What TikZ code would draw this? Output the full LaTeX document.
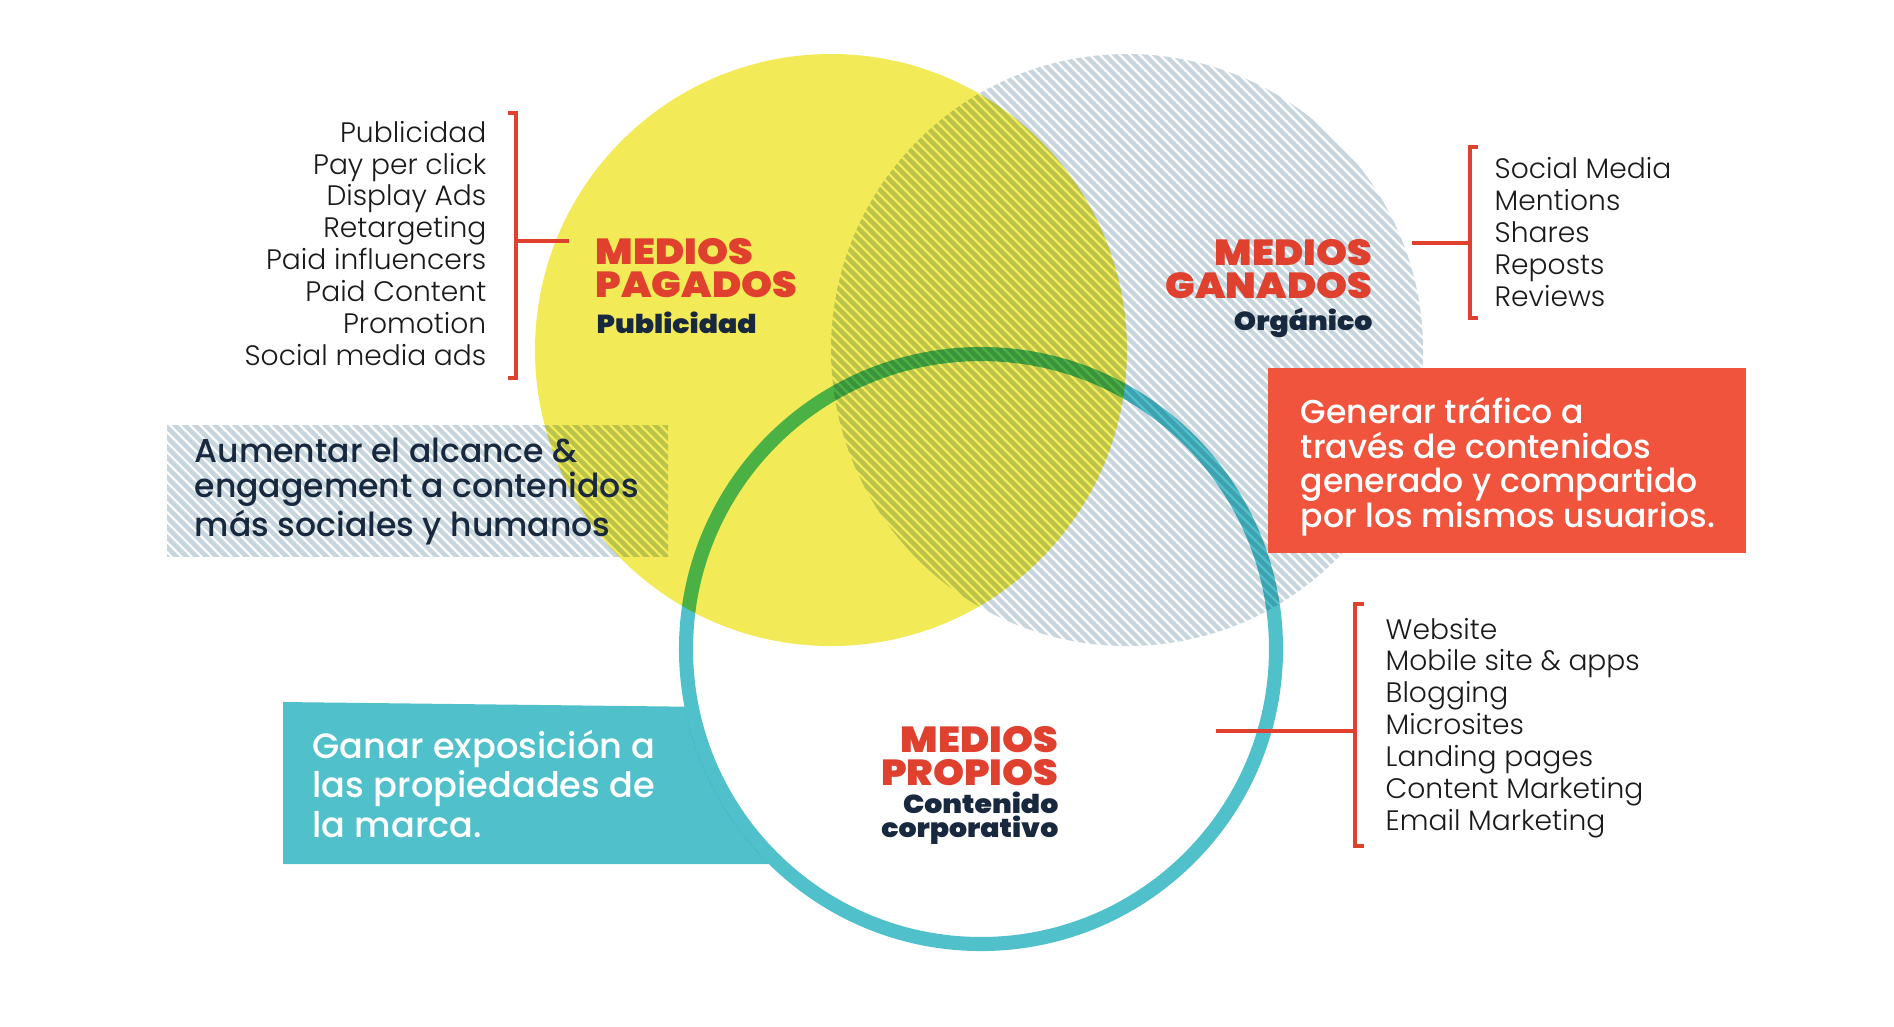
\documentclass[tikz,border=0pt]{standalone}
\usepackage{fontspec}
\setmainfont{Poppins}
\newfontfamily\listfont{Poppins Light}
\newfontfamily\medfont{Poppins Medium}
\newfontfamily\heavyfont{Poppins Black}[FakeStretch=1.09]
\definecolor{venyellow}{RGB}{242,234,86}
\definecolor{venhatch}{RGB}{198,213,222}
\definecolor{venteal}{RGB}{80,193,203}
\definecolor{venred}{RGB}{224,64,46}
\definecolor{venredbox}{RGB}{240,84,61}
\definecolor{navy}{RGB}{24,40,62}
\definecolor{listgray}{RGB}{26,26,26}
\tikzset{
    % shape styles
    hatch line/.style={draw=venhatch, line width=1.3pt},
    ring/.style={draw=venteal, line width=4pt},
    bracket/.style={draw=venred, line width=1pt},
    % text styles (base anchor = baseline of the last line)
    list text/.style={inner sep=0pt, text=listgray,
                      font=\listfont\fontsize{8}{9.05}\selectfont},
    title text/.style={inner sep=0pt, text=venred,
                       font=\heavyfont\fontsize{10.3}{9.3}\selectfont},
    sub text/.style={inner sep=0pt, text=navy,
                     font=\heavyfont\fontsize{7.4}{6.6}\selectfont},
    goal text/.style={inner sep=0pt, font=\medfont\fontsize{9.4}{9.8}\selectfont},
}

\begin{document}
\begin{tikzpicture}[x=0.01cm, y=-0.01cm]
    \useasboundingbox[fill=white] (0,0) rectangle (1894,1026);

    % Teal goal box, cut by the owned media circle
    \begin{scope}
        \clip (283,702) -- (800,708) -- (800,864) -- (283,864) -- cycle;
        \fill[venteal, even odd rule] (0,0) rectangle (1894,1026)
            (981,649) circle[radius=302];
    \end{scope}

    % Paid media circle
    \fill[venyellow] (831,350) circle[radius=296];

    % Earned media circle, hatched goal box and owned media ring
    \begin{scope}[blend mode=multiply]
        \begin{scope}
            \clip (1127,350) circle[radius=296];
            \foreach \c in {350,360,...,1200}
                \draw[hatch line] (\c,0) -- ++(700,700);
        \end{scope}
        \begin{scope}
            \clip (167,425) rectangle (668,556);
            \foreach \c in {-400,-390,...,250}
                \draw[hatch line] (\c,0) -- ++(700,700);
        \end{scope}
        \draw[ring] (981,649) circle[radius=295];
    \end{scope}

    % Red goal box
    \fill[venredbox] (1268,368) rectangle (1746,553);

    % Titles
    \node[title text, align=left, anchor=base west] (pagTitle) at (595,297)
        {MEDIOS\\PAGADOS};
    \node[sub text, anchor=base west] (pagSub) at (596,333) {Publicidad};
    \node[title text, align=right, anchor=base east] (ganTitle) at (1373,298)
        {MEDIOS\\GANADOS};
    \node[sub text, anchor=base east] (ganSub) at (1373,330) {Orgánico};
    \node[title text, align=right, anchor=base east] (proTitle) at (1059,785)
        {MEDIOS\\PROPIOS};
    \node[sub text, align=right, anchor=base east] (proSub) at (1059,837)
        {Contenido\\corporativo};

    % Goals
    \node[goal text, text=navy, align=left, anchor=base west] (pagGoal) at (194,536)
        {Aumentar el alcance \&\\engagement a contenidos\\más sociales y humanos};
    \node[goal text, text=white, align=left, anchor=base west] (ganGoal) at (1300,527)
        {Generar tráfico a\\través de contenidos\\generado y compartido\\por los mismos usuarios.};
    \node[goal text, text=white, align=left, anchor=base west,
          font=\medfont\fontsize{10}{11.2}\selectfont] (proGoal) at (312,837)
        {Ganar exposición a\\las propiedades de\\la marca.};

    % Lists
    \node[list text, align=right, anchor=base east] (pagList) at (487,365)
        {Publicidad\\Pay per click\\Display Ads\\Retargeting\\Paid influencers\\Paid Content\\Promotion\\Social media ads};
    \node[list text, align=left, anchor=base west] (ganList) at (1494,306)
        {Social Media\\Mentions\\Shares\\Reposts\\Reviews};
    \node[list text, align=left, anchor=base west] (proList) at (1385,830)
        {Website\\Mobile site \& apps\\Blogging\\Microsites\\Landing pages\\Content Marketing\\Email Marketing};

    % Brackets
    \coordinate (pagTop) at (516,113);
    \coordinate (pagBot) at (516,378);
    \coordinate (pagMid) at (516,241);
    \coordinate (pagTip) at (569,241);
    \draw[bracket] ([xshift=-0.08cm]pagTop) -- (pagTop) -- (pagBot) -- ([xshift=-0.08cm]pagBot);
    \draw[bracket] (pagMid) -- (pagTip);

    \coordinate (ganTop) at (1470,147);
    \coordinate (ganBot) at (1470,318);
    \coordinate (ganMid) at (1470,243);
    \coordinate (ganTip) at (1412,243);
    \draw[bracket] ([xshift=0.08cm]ganTop) -- (ganTop) -- (ganBot) -- ([xshift=0.08cm]ganBot);
    \draw[bracket] (ganMid) -- (ganTip);

    \coordinate (proTop) at (1355,604);
    \coordinate (proBot) at (1355,846);
    \coordinate (proMid) at (1355,731);
    \coordinate (proTip) at (1216,731);
    \draw[bracket] ([xshift=0.09cm]proTop) -- (proTop) -- (proBot) -- ([xshift=0.09cm]proBot);
    \draw[bracket] (proMid) -- (proTip);
\end{tikzpicture}
\end{document}
